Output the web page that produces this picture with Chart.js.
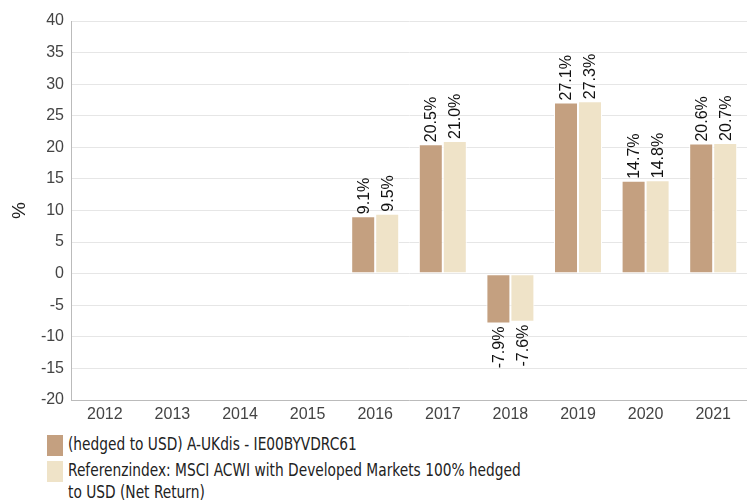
<!DOCTYPE html>
<html><head><meta charset="utf-8">
<script src="https://cdn.jsdelivr.net/npm/chart.js@4"></script>
<style>
html,body{margin:0;padding:0;background:#fff;width:747px;height:502px;overflow:hidden;}
#wrap{position:absolute;left:0;top:0;width:747px;height:425px;}
#legend{position:absolute;left:47px;top:433px;width:700px;font-family:"DejaVu Sans Condensed","DejaVu Sans",sans-serif;font-size:18px;color:#222;line-height:22px;}
.item{position:relative;padding-left:21px;margin-bottom:4px;}
.box{position:absolute;left:0;top:2px;width:16px;height:21px;}
.txt{display:inline-block;width:545px;transform:scaleX(0.85);transform-origin:0 0;}
</style></head><body>
<div id="wrap"><canvas id="c"></canvas></div>
<div id="legend"></div>
<script>
const categories = ["2012","2013","2014","2015","2016","2017","2018","2019","2020","2021"];
const fundValues = [null,null,null,null,9.1,20.5,-7.9,27.1,14.7,20.6];
const indexValues = [null,null,null,null,9.5,21.0,-7.6,27.3,14.8,20.7];
const seriesNames = ["(hedged to USD) A-UKdis - IE00BYVDRC61","Referenzindex: MSCI ACWI with Developed Markets 100% hedged to USD (Net Return)"];
const colors = ["#c4a080","#efe3c8"];

const labelPlugin = {
  id:'vlabels',
  afterDatasetsDraw(chart){
    const ctx = chart.ctx;
    chart.data.datasets.forEach((ds,i)=>{
      const meta = chart.getDatasetMeta(i);
      meta.data.forEach((bar,j)=>{
        const v = ds.data[j];
        if(v===null||v===undefined) return;
        const txt = v.toFixed(1)+'%';
        ctx.save();
        ctx.font = '16px "Liberation Sans", Arial, sans-serif';
        ctx.fillStyle = '#111';
        ctx.textBaseline = 'middle';
        ctx.translate(bar.x+1, v>=0 ? bar.y-2 : bar.y+3);
        ctx.rotate(-Math.PI/2);
        ctx.textAlign = v>=0 ? 'left' : 'right';
        ctx.fillText(txt,0,0);
        ctx.restore();
      });
    });
  }
};

new Chart(document.getElementById('c'),{
  type:'bar',
  data:{labels:categories,datasets:[
    {label:seriesNames[0],data:fundValues,backgroundColor:colors[0],borderColor:'#ffffff',borderWidth:1,borderSkipped:false,categoryPercentage:0.71,barPercentage:1.0},
    {label:seriesNames[1],data:indexValues,backgroundColor:colors[1],borderColor:'#ffffff',borderWidth:1,borderSkipped:false,categoryPercentage:0.71,barPercentage:1.0}
  ]},
  options:{
    responsive:true,maintainAspectRatio:false,animation:false,
    layout:{padding:{top:21,right:0,left:0,bottom:0}},
    plugins:{legend:{display:false},tooltip:{enabled:false}},
    scales:{
      x:{
        grid:{display:false,drawTicks:false},
        border:{color:'#bbbbbb'},
        ticks:{color:'#444',font:{family:'"Liberation Sans", Arial, sans-serif',size:16},padding:5},
        afterFit(s){s.height=25;}
      },
      y:{
        min:-20,max:40,
        ticks:{stepSize:5,color:'#444',font:{family:'"Liberation Sans", Arial, sans-serif',size:16},padding:7},
        grid:{color:'#e6e6e6',drawTicks:false},
        border:{color:'#bbbbbb'},
        title:{display:true,text:'%',color:'#222',font:{family:'"Liberation Sans", Arial, sans-serif',size:19},padding:{top:8,bottom:8}},
        afterFit(s){s.width=71;}
      }
    }
  },
  plugins:[labelPlugin]
});

const lg=document.getElementById('legend');
seriesNames.forEach((n,i)=>{
  const d=document.createElement('div');d.className='item';
  const b=document.createElement('span');b.className='box';b.style.background=colors[i];
  const t=document.createElement('span');t.className='txt';t.textContent=n;
  d.appendChild(b);d.appendChild(t);lg.appendChild(d);
});
</script>
</body></html>
